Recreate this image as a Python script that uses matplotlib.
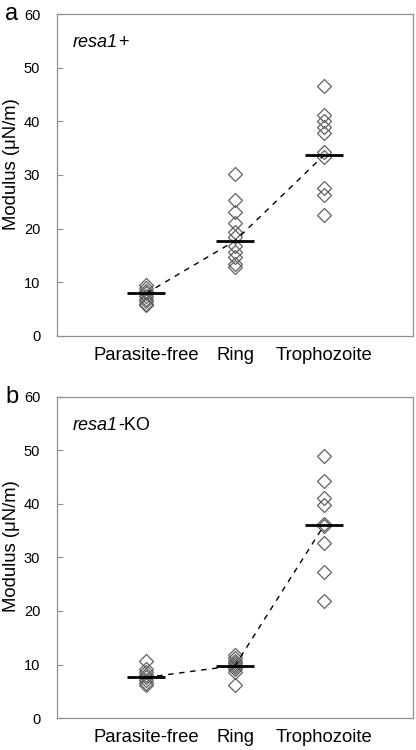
import matplotlib
matplotlib.use("Agg")
import matplotlib.pyplot as plt
import numpy as np

plt.rcParams['font.family'] = ['Liberation Sans', 'DejaVu Sans']

categories = ["Parasite-free", "Ring", "Trophozoite"]

# panel a: resa1+
a_free = [9.4, 8.9, 8.4, 7.9, 7.4, 6.9, 6.4, 6.0, 5.7]
a_ring = [30.1, 25.3, 23.1, 21.1, 19.4, 18.5, 16.7, 15.6, 14.7, 13.3, 12.9]
a_troph = [46.7, 41.2, 40.1, 39.0, 37.8, 34.3, 33.3, 27.5, 26.3, 22.5]
a_means = [7.9, 17.7, 33.7]

# panel b: resa1-KO
b_free = [10.6, 9.2, 8.6, 8.1, 7.6, 7.1, 6.6, 6.2]
b_ring = [11.8, 11.2, 10.7, 10.3, 9.9, 9.5, 9.1, 8.7, 6.2]
b_troph = [49.0, 44.3, 41.0, 39.8, 36.2, 35.8, 32.6, 27.2, 21.9]
b_means = [7.6, 9.8, 36.0]

panels = [
    ("a", "+", [a_free, a_ring, a_troph], a_means,
     [0.137, 0.5524, 0.856, 0.4286]),
    ("b", "-KO", [b_free, b_ring, b_troph], b_means,
     [0.137, 0.0425, 0.856, 0.4286]),
]

fig = plt.figure(figsize=(4.16, 7.5), dpi=100)

for letter, suffix, groups, means, rect in panels:
    ax = fig.add_axes(rect)
    xs = np.arange(1, len(categories) + 1)
    for x, vals in zip(xs, groups):
        ax.plot([x] * len(vals), vals, 'D', ms=7.6, mfc='none',
                mec='#606060', mew=0.9, linestyle='none', zorder=2)
    ax.plot(xs, means, color='black', lw=1.0, dashes=(4, 4), zorder=3)
    for x, m in zip(xs, means):
        ax.plot([x - 0.21, x + 0.21], [m, m], color='black', lw=2.0,
                solid_capstyle='butt', zorder=4)

    ax.set_xlim(0, 4)
    ax.set_ylim(0, 60)
    ax.set_yticks(range(0, 61, 10))
    ax.set_xticks(xs)
    ax.set_xticklabels(categories, fontsize=13.3)
    ax.tick_params(axis='x', length=0, pad=8)
    ax.tick_params(axis='y', direction='in', length=4, color='#909090',
                   labelsize=10.5, pad=12)
    for s in ax.spines.values():
        s.set_color('#909090')
        s.set_linewidth(0.9)
    ax.set_ylabel("Modulus (μN/m)", fontsize=13.3)
    ax.yaxis.set_label_coords(-0.105, 0.535)

    t1 = ax.text(0.045, 0.885, "resa1", transform=ax.transAxes, fontsize=13,
                 style='italic', va='bottom', ha='left')
    ax.annotate(suffix, xy=(1, 0), xycoords=t1, fontsize=13,
                va='bottom', ha='left')
    ax.text(-0.145, 1.0, letter, transform=ax.transAxes, fontsize=17,
            va='center', ha='left')

fig.savefig("out.png", dpi=100)
